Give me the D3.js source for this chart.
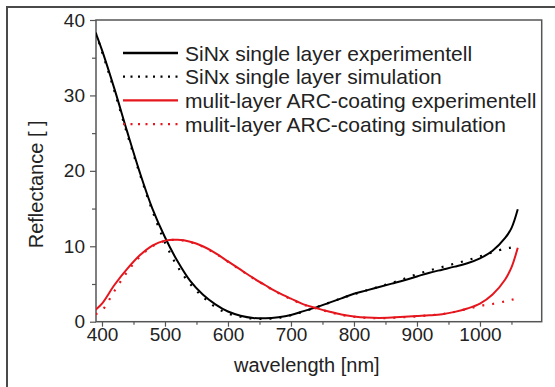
<!DOCTYPE html>
<html>
<head>
<meta charset="utf-8">
<script src="https://cdn.jsdelivr.net/npm/d3@7"></script>
<style>
  html, body { margin: 0; padding: 0; background: #fff; }
  svg { display: block; font-family: "Liberation Sans", Arial, sans-serif; }
</style>
</head>
<body>
<div id="chart-area"></div>
<script>
// wavelengths in nm (shared grid for all four curves)
const wavelengths = [390, 400, 420, 440, 460, 480, 500, 520, 540, 560, 580, 600, 620, 640, 660, 680, 700, 720,
                     740, 760, 780, 800, 820, 840, 860, 880, 900, 920, 940, 960, 980, 1000, 1020, 1040, 1050, 1060];

// reflectance values [%]
const sinxExp = [38.3, 36.0, 30.8, 25.2, 19.8, 15.0, 11.2, 8.0, 5.4, 3.6, 2.3, 1.35, 0.8, 0.5, 0.45, 0.6, 0.9, 1.4,
                 1.9, 2.5, 3.1, 3.7, 4.15, 4.6, 5.05, 5.5, 6.0, 6.5, 6.9, 7.3, 7.75, 8.4, 9.4, 11.1, 12.4, 14.9];
const sinxSim = [38.3, 35.8, 30.5, 24.9, 19.6, 14.7, 10.5, 7.3, 5.0, 3.3, 1.95, 1.1, 0.65, 0.4, 0.38, 0.5, 0.85, 1.35,
                 1.9, 2.5, 3.1, 3.65, 4.15, 4.65, 5.15, 5.7, 6.3, 6.8, 7.25, 7.7, 8.15, 8.65, 9.2, 9.7, 9.85, 10.1];
const arcExp  = [1.6, 2.4, 4.9, 7.0, 8.8, 10.1, 10.75, 10.85, 10.6, 10.0, 9.1, 8.0, 6.9, 5.8, 4.8, 3.85, 3.05, 2.3,
                 1.8, 1.35, 0.95, 0.7, 0.55, 0.5, 0.55, 0.65, 0.75, 0.85, 1.0, 1.3, 1.75, 2.4, 3.6, 5.6, 7.2, 9.8];
const arcSim  = [1.0, 1.5, 4.1, 6.6, 8.6, 10.0, 10.7, 10.85, 10.55, 9.95, 9.05, 7.95, 6.85, 5.75, 4.75, 3.8, 3.0, 2.25,
                 1.75, 1.3, 0.9, 0.65, 0.5, 0.45, 0.5, 0.6, 0.7, 0.85, 1.0, 1.3, 1.7, 2.1, 2.35, 2.7, 2.9, 3.1];

const seriesNames = ["SiNx single layer experimentell", "SiNx single layer simulation",
                     "mulit-layer ARC-coating experimentell", "mulit-layer ARC-coating simulation"];

const xMajor = [400, 500, 600, 700, 800, 900, 1000];
const xMinor = [450, 550, 650, 750, 850, 950, 1050];
const yMajor = [0, 10, 20, 30, 40];
const yMinor = [5, 15, 25, 35];

const RED = "#e5161d";
const series = [
    { name: seriesNames[0], values: sinxExp, color: "#000", dotted: false },
    { name: seriesNames[1], values: sinxSim, color: "#000", dotted: true },
    { name: seriesNames[2], values: arcExp,  color: RED,    dotted: false },
    { name: seriesNames[3], values: arcSim,  color: RED,    dotted: true }
];

// set up chart
const W = 555, H = 387;
const margin = { top: 20, right: 13.3, bottom: 65.3, left: 96 },
      width = W - margin.left - margin.right,
      height = H - margin.top - margin.bottom;

const svg = d3.select("#chart-area")
    .append("svg")
        .attr("width", W)
        .attr("height", H);

// outer frame of the figure
svg.append("rect")
    .attr("x", 7).attr("y", 7)
    .attr("width", W).attr("height", H)
    .attr("fill", "none")
    .attr("stroke", "#4a4a4a")
    .attr("stroke-width", 2);

const g = svg.append("g")
    .attr("transform", "translate(" + margin.left + ", " + margin.top + ")");

// scales
const x = d3.scaleLinear().domain([390.5, 1098]).range([0, width]);
const y = d3.scaleLinear().domain([0, 40]).range([height, 0]);

g.append("clipPath").attr("id", "plot-clip")
    .append("rect").attr("width", width).attr("height", height);

// axes
function styleAxis(sel) {
    sel.select(".domain").remove();
    sel.selectAll(".tick line").attr("stroke", "#555").attr("stroke-width", 1.2);
    sel.selectAll(".tick text")
        .attr("fill", "#222")
        .style("font-size", "19px")
        .style("font-family", "\"Liberation Sans\", Arial, sans-serif");
}

g.append("g")
    .attr("transform", "translate(0, " + height + ")")
    .call(d3.axisBottom(x).tickValues(xMinor).tickSize(3).tickFormat(""))
    .call(styleAxis);

g.append("g")
    .attr("transform", "translate(0, " + height + ")")
    .call(d3.axisBottom(x).tickValues(xMajor).tickSize(5).tickPadding(1).tickFormat(d3.format("d")))
    .call(styleAxis);

g.append("g")
    .call(d3.axisLeft(y).tickValues(yMinor).tickSize(4).tickFormat(""))
    .call(styleAxis);

g.append("g")
    .call(d3.axisLeft(y).tickValues(yMajor).tickSize(6).tickPadding(5).tickFormat(d3.format("d")))
    .call(styleAxis);

// plot box
g.append("rect")
    .attr("width", width)
    .attr("height", height)
    .attr("fill", "none")
    .attr("stroke", "#555")
    .attr("stroke-width", 1.5);

// axis labels
g.append("text")
    .attr("x", width / 2 - 12)
    .attr("y", height + 50)
    .attr("text-anchor", "middle")
    .attr("fill", "#222")
    .style("font-size", "20px")
    .text("wavelength [nm]");

g.append("text")
    .attr("transform", "rotate(-90)")
    .attr("x", -(height / 2 + 13.5))
    .attr("y", -53)
    .attr("text-anchor", "middle")
    .attr("fill", "#222")
    .style("font-size", "20px")
    .text("Reflectance [ ]");

// curves
const lineBuilder = d3.line()
    .x((d, i) => x(wavelengths[i]))
    .y(d => y(d))
    .curve(d3.curveCatmullRom);

const plot = g.append("g").attr("clip-path", "url(#plot-clip)");

plot.selectAll("path.series")
    .data(series)
    .enter()
    .append("path")
        .attr("class", "series")
        .attr("fill", "none")
        .attr("stroke", d => d.color)
        .attr("stroke-width", d => d.dotted ? 2.2 : 2)
        .attr("stroke-dasharray", d => d.dotted ? "2,8" : null)
        .attr("d", d => lineBuilder(d.values));

// legend
const legend = g.append("g")
    .attr("transform", "translate(27, 40.5)");

const rows = legend.selectAll("g.row")
    .data(series)
    .enter()
    .append("g")
        .attr("class", "row")
        .attr("transform", (d, i) => "translate(0, " + (i * 23.7) + ")");

rows.append("line")
    .attr("x1", 0).attr("x2", 55)
    .attr("y1", -7.5).attr("y2", -7.5)
    .attr("stroke", d => d.color)
    .attr("stroke-width", d => d.dotted ? 2.2 : 2.4)
    .attr("stroke-dasharray", d => d.dotted ? "2,5.5" : null);

rows.append("text")
    .attr("x", 62)
    .attr("y", 0)
    .attr("fill", "#222")
    .style("font-size", "21px")
    .text(d => d.name);
</script>
</body>
</html>
